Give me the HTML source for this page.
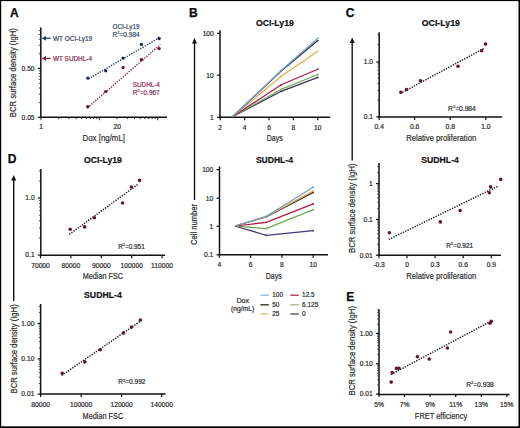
<!DOCTYPE html>
<html><head><meta charset="utf-8"><style>
html,body{margin:0;padding:0;background:#000;}
body{width:520px;height:428px;overflow:hidden;position:relative;}
svg{position:absolute;left:0;top:0;}
text{font-family:"Liberation Sans", sans-serif;}
</style></head><body>
<svg width="520" height="428" viewBox="0 0 520 428">
<rect x="0" y="0" width="520" height="428" fill="#000"/>
<rect x="1.2" y="1.1" width="517.3" height="425.2" fill="#fff"/>
<text x="9.9" y="16.88" font-size="12" font-weight="bold" fill="#0a0a0a" stroke="#0a0a0a" stroke-width="0.25">A</text>
<g transform="translate(12.9,72.65) rotate(-90)"><text x="0" y="3.42" font-size="9.9" text-anchor="middle" fill="#2a2a2a" stroke="#2a2a2a" stroke-width="0.2" textLength="89.1" lengthAdjust="spacingAndGlyphs">BCR surface density (IgH)</text></g>
<line x1="40.80" y1="27.40" x2="40.80" y2="118.00" stroke="#111" stroke-width="1.5"/>
<line x1="40.10" y1="117.30" x2="167.00" y2="117.30" stroke="#111" stroke-width="1.5"/>
<line x1="37.80" y1="68.40" x2="40.80" y2="68.40" stroke="#111" stroke-width="1.2"/>
<g transform="translate(34.599999999999994,70.71) scale(1.0,1)"><text x="0" y="0" font-size="6.7" font-weight="normal" text-anchor="end" fill="#2a2a2a" stroke="#2a2a2a" stroke-width="0.2">0.50</text></g>
<line x1="37.80" y1="117.30" x2="40.80" y2="117.30" stroke="#111" stroke-width="1.2"/>
<g transform="translate(34.599999999999994,119.61) scale(1.0,1)"><text x="0" y="0" font-size="6.7" font-weight="normal" text-anchor="end" fill="#2a2a2a" stroke="#2a2a2a" stroke-width="0.2">0.05</text></g>
<line x1="38.80" y1="53.77" x2="40.80" y2="53.77" stroke="#333" stroke-width="0.9"/>
<line x1="38.80" y1="45.21" x2="40.80" y2="45.21" stroke="#333" stroke-width="0.9"/>
<line x1="38.80" y1="39.14" x2="40.80" y2="39.14" stroke="#333" stroke-width="0.9"/>
<line x1="38.80" y1="34.43" x2="40.80" y2="34.43" stroke="#333" stroke-width="0.9"/>
<line x1="38.80" y1="30.58" x2="40.80" y2="30.58" stroke="#333" stroke-width="0.9"/>
<line x1="38.80" y1="102.67" x2="40.80" y2="102.67" stroke="#333" stroke-width="0.9"/>
<line x1="38.80" y1="94.11" x2="40.80" y2="94.11" stroke="#333" stroke-width="0.9"/>
<line x1="38.80" y1="88.04" x2="40.80" y2="88.04" stroke="#333" stroke-width="0.9"/>
<line x1="38.80" y1="83.33" x2="40.80" y2="83.33" stroke="#333" stroke-width="0.9"/>
<line x1="38.80" y1="79.48" x2="40.80" y2="79.48" stroke="#333" stroke-width="0.9"/>
<line x1="38.80" y1="76.23" x2="40.80" y2="76.23" stroke="#333" stroke-width="0.9"/>
<line x1="38.80" y1="73.41" x2="40.80" y2="73.41" stroke="#333" stroke-width="0.9"/>
<line x1="38.80" y1="70.92" x2="40.80" y2="70.92" stroke="#333" stroke-width="0.9"/>
<line x1="41.00" y1="117.30" x2="41.00" y2="120.30" stroke="#222" stroke-width="1.0"/>
<line x1="58.58" y1="117.30" x2="58.58" y2="119.10" stroke="#222" stroke-width="1.0"/>
<line x1="68.86" y1="117.30" x2="68.86" y2="119.10" stroke="#222" stroke-width="1.0"/>
<line x1="76.16" y1="117.30" x2="76.16" y2="119.10" stroke="#222" stroke-width="1.0"/>
<line x1="81.82" y1="117.30" x2="81.82" y2="119.10" stroke="#222" stroke-width="1.0"/>
<line x1="86.44" y1="117.30" x2="86.44" y2="119.10" stroke="#222" stroke-width="1.0"/>
<line x1="90.35" y1="117.30" x2="90.35" y2="119.10" stroke="#222" stroke-width="1.0"/>
<line x1="93.74" y1="117.30" x2="93.74" y2="119.10" stroke="#222" stroke-width="1.0"/>
<line x1="96.73" y1="117.30" x2="96.73" y2="119.10" stroke="#222" stroke-width="1.0"/>
<line x1="99.40" y1="117.30" x2="99.40" y2="120.30" stroke="#222" stroke-width="1.0"/>
<line x1="116.98" y1="117.30" x2="116.98" y2="119.10" stroke="#222" stroke-width="1.0"/>
<line x1="127.26" y1="117.30" x2="127.26" y2="119.10" stroke="#222" stroke-width="1.0"/>
<line x1="134.56" y1="117.30" x2="134.56" y2="119.10" stroke="#222" stroke-width="1.0"/>
<line x1="140.22" y1="117.30" x2="140.22" y2="119.10" stroke="#222" stroke-width="1.0"/>
<line x1="144.84" y1="117.30" x2="144.84" y2="119.10" stroke="#222" stroke-width="1.0"/>
<line x1="148.75" y1="117.30" x2="148.75" y2="119.10" stroke="#222" stroke-width="1.0"/>
<line x1="152.14" y1="117.30" x2="152.14" y2="119.10" stroke="#222" stroke-width="1.0"/>
<line x1="155.13" y1="117.30" x2="155.13" y2="119.10" stroke="#222" stroke-width="1.0"/>
<line x1="157.80" y1="117.30" x2="157.80" y2="120.30" stroke="#222" stroke-width="1.0"/>
<text x="41" y="129.11" font-size="6.7" font-weight="normal" text-anchor="middle" fill="#2a2a2a" stroke="#2a2a2a" stroke-width="0.2">1</text>
<text x="117.3" y="129.11" font-size="6.7" font-weight="normal" text-anchor="middle" fill="#2a2a2a" stroke="#2a2a2a" stroke-width="0.2">20</text>
<text x="103.75" y="141.32" font-size="9.9" font-weight="normal" text-anchor="middle" fill="#2a2a2a" stroke="#2a2a2a" stroke-width="0.2" textLength="42.5" lengthAdjust="spacingAndGlyphs">Dox [ng/mL]</text>
<line x1="44.00" y1="38.30" x2="50.70" y2="38.30" stroke="#2a3c62" stroke-width="1.3"/>
<path d="M41.6,38.3 L46.0,35.9 L46.0,40.7 Z" fill="#2a3c62"/>
<text x="53.0" y="40.97" font-size="6.3" font-weight="normal" text-anchor="start" fill="#3c4866" stroke="#3c4866" stroke-width="0.2" textLength="39.2" lengthAdjust="spacingAndGlyphs">WT OCI-Ly19</text>
<line x1="44.00" y1="58.40" x2="50.70" y2="58.40" stroke="#8e1e44" stroke-width="1.3"/>
<path d="M41.6,58.4 L46.0,56.0 L46.0,60.8 Z" fill="#8e1e44"/>
<text x="53.0" y="61.07" font-size="6.3" font-weight="normal" text-anchor="start" fill="#8a2c50" stroke="#8a2c50" stroke-width="0.2" textLength="39.0" lengthAdjust="spacingAndGlyphs">WT SUDHL-4</text>
<line x1="88.5" y1="78.8" x2="160" y2="37.4" stroke="#2a3c62" stroke-width="1.4" stroke-dasharray="1.3 1.3"/>
<line x1="87.4" y1="107.8" x2="160.5" y2="44.5" stroke="#8e1e44" stroke-width="1.4" stroke-dasharray="1.3 1.3"/>
<circle cx="87.8" cy="78.1" r="1.7" fill="#1f2d4c"/>
<circle cx="105.7" cy="70.7" r="1.7" fill="#1f2d4c"/>
<circle cx="123.1" cy="58.1" r="1.7" fill="#1f2d4c"/>
<circle cx="141.4" cy="44.4" r="1.7" fill="#1f2d4c"/>
<circle cx="159.1" cy="38.5" r="1.7" fill="#1f2d4c"/>
<circle cx="87.7" cy="106.8" r="1.7" fill="#6a1430"/>
<circle cx="105.7" cy="91.6" r="1.7" fill="#6a1430"/>
<circle cx="123.1" cy="67.6" r="1.7" fill="#6a1430"/>
<circle cx="141.4" cy="59.6" r="1.7" fill="#6a1430"/>
<circle cx="159.1" cy="48.6" r="1.7" fill="#6a1430"/>
<text x="112.6" y="28.81" font-size="6.4" font-weight="normal" text-anchor="start" fill="#3c4866" stroke="#3c4866" stroke-width="0.2" textLength="26.9" lengthAdjust="spacingAndGlyphs">OCI-Ly19</text>
<text x="112.6" y="36.75" font-size="6.8" font-weight="normal" text-anchor="start" fill="#3c4866" stroke="#3c4866" stroke-width="0.2" textLength="27.1" lengthAdjust="spacingAndGlyphs">R<tspan font-size="4.2" dy="-2.6">2</tspan><tspan dy="2.6">=0.984</tspan></text>
<text x="132.8" y="87.11" font-size="6.4" font-weight="normal" text-anchor="start" fill="#8a2c50" stroke="#8a2c50" stroke-width="0.2" textLength="27.1" lengthAdjust="spacingAndGlyphs">SUDHL-4</text>
<text x="132.8" y="94.75" font-size="6.8" font-weight="normal" text-anchor="start" fill="#8a2c50" stroke="#8a2c50" stroke-width="0.2" textLength="26.9" lengthAdjust="spacingAndGlyphs">R<tspan font-size="4.2" dy="-2.6">2</tspan><tspan dy="2.6">=0.967</tspan></text>
<text x="189.0" y="16.88" font-size="12" font-weight="bold" fill="#0a0a0a" stroke="#0a0a0a" stroke-width="0.25">B</text>
<line x1="194.50" y1="42.00" x2="194.50" y2="200.00" stroke="#111" stroke-width="1.4"/>
<path d="M192.0,43.4 L194.5,38 L197.0,43.4 Z" fill="#111"/>
<g transform="translate(194.0,224.5) rotate(-90)"><text x="0" y="3.42" font-size="9.9" text-anchor="middle" fill="#2a2a2a" stroke="#2a2a2a" stroke-width="0.2" textLength="41" lengthAdjust="spacingAndGlyphs">Cell number</text></g>
<text x="274.95" y="26.07" font-size="8.9" font-weight="bold" text-anchor="middle" fill="#111" stroke="#111" stroke-width="0.2" textLength="37.7" lengthAdjust="spacingAndGlyphs">OCI-Ly19</text>
<line x1="220.00" y1="30.20" x2="220.00" y2="118.00" stroke="#111" stroke-width="1.5"/>
<line x1="219.30" y1="117.30" x2="330.20" y2="117.30" stroke="#111" stroke-width="1.5"/>
<line x1="217.00" y1="33.30" x2="220.00" y2="33.30" stroke="#111" stroke-width="1.2"/>
<g transform="translate(213.8,35.61) scale(1.0,1)"><text x="0" y="0" font-size="6.7" font-weight="normal" text-anchor="end" fill="#2a2a2a" stroke="#2a2a2a" stroke-width="0.2">100</text></g>
<line x1="217.00" y1="75.20" x2="220.00" y2="75.20" stroke="#111" stroke-width="1.2"/>
<g transform="translate(213.8,77.51) scale(1.0,1)"><text x="0" y="0" font-size="6.7" font-weight="normal" text-anchor="end" fill="#2a2a2a" stroke="#2a2a2a" stroke-width="0.2">10</text></g>
<line x1="217.00" y1="117.30" x2="220.00" y2="117.30" stroke="#111" stroke-width="1.2"/>
<g transform="translate(213.8,119.61) scale(1.0,1)"><text x="0" y="0" font-size="6.7" font-weight="normal" text-anchor="end" fill="#2a2a2a" stroke="#2a2a2a" stroke-width="0.2">1</text></g>
<line x1="220.20" y1="117.30" x2="220.20" y2="120.30" stroke="#111" stroke-width="1.2"/>
<g transform="translate(220.2,129.51) scale(1.0,1)"><text x="0" y="0" font-size="6.7" font-weight="normal" text-anchor="middle" fill="#2a2a2a" stroke="#2a2a2a" stroke-width="0.2">2</text></g>
<line x1="244.60" y1="117.30" x2="244.60" y2="120.30" stroke="#111" stroke-width="1.2"/>
<g transform="translate(244.6,129.51) scale(1.0,1)"><text x="0" y="0" font-size="6.7" font-weight="normal" text-anchor="middle" fill="#2a2a2a" stroke="#2a2a2a" stroke-width="0.2">4</text></g>
<line x1="269.00" y1="117.30" x2="269.00" y2="120.30" stroke="#111" stroke-width="1.2"/>
<g transform="translate(269.0,129.51) scale(1.0,1)"><text x="0" y="0" font-size="6.7" font-weight="normal" text-anchor="middle" fill="#2a2a2a" stroke="#2a2a2a" stroke-width="0.2">6</text></g>
<line x1="293.40" y1="117.30" x2="293.40" y2="120.30" stroke="#111" stroke-width="1.2"/>
<g transform="translate(293.4,129.51) scale(1.0,1)"><text x="0" y="0" font-size="6.7" font-weight="normal" text-anchor="middle" fill="#2a2a2a" stroke="#2a2a2a" stroke-width="0.2">8</text></g>
<line x1="317.80" y1="117.30" x2="317.80" y2="120.30" stroke="#111" stroke-width="1.2"/>
<g transform="translate(317.79999999999995,129.51) scale(1.0,1)"><text x="0" y="0" font-size="6.7" font-weight="normal" text-anchor="middle" fill="#2a2a2a" stroke="#2a2a2a" stroke-width="0.2">10</text></g>
<text x="274.75" y="140.92" font-size="9.9" font-weight="normal" text-anchor="middle" fill="#2a2a2a" stroke="#2a2a2a" stroke-width="0.2" textLength="16" lengthAdjust="spacingAndGlyphs">Days</text>
<path d="M232.40,116.8 L281.20,91.3 L317.80,77.4" fill="none" stroke="#3a3358" stroke-width="1.25"/>
<circle cx="281.20" cy="91.3" r="0.9" fill="#3a3358"/>
<circle cx="317.80" cy="77.4" r="0.9" fill="#3a3358"/>
<path d="M232.40,116.8 L281.20,89.3 L317.80,74.5" fill="none" stroke="#72aa58" stroke-width="1.25"/>
<circle cx="281.20" cy="89.3" r="0.9" fill="#72aa58"/>
<circle cx="317.80" cy="74.5" r="0.9" fill="#72aa58"/>
<path d="M232.40,116.8 L281.20,84.8 L317.80,69.2" fill="none" stroke="#a6194a" stroke-width="1.25"/>
<circle cx="281.20" cy="84.8" r="0.9" fill="#a6194a"/>
<circle cx="317.80" cy="69.2" r="0.9" fill="#a6194a"/>
<path d="M232.40,116.8 L281.20,76.3 L317.80,51.3" fill="none" stroke="#e6ac48" stroke-width="1.25"/>
<circle cx="281.20" cy="76.3" r="0.9" fill="#e6ac48"/>
<circle cx="317.80" cy="51.3" r="0.9" fill="#e6ac48"/>
<path d="M232.40,116.8 L281.20,71.0 L317.80,40.6" fill="none" stroke="#303030" stroke-width="1.25"/>
<circle cx="281.20" cy="71.0" r="0.9" fill="#303030"/>
<circle cx="317.80" cy="40.6" r="0.9" fill="#303030"/>
<path d="M232.40,116.8 L281.20,70.5 L317.80,38.2" fill="none" stroke="#74a2d6" stroke-width="1.25"/>
<circle cx="281.20" cy="70.5" r="0.9" fill="#74a2d6"/>
<circle cx="317.80" cy="38.2" r="0.9" fill="#74a2d6"/>
<text x="274.4" y="163.07" font-size="8.9" font-weight="bold" text-anchor="middle" fill="#111" stroke="#111" stroke-width="0.2" textLength="37" lengthAdjust="spacingAndGlyphs">SUDHL-4</text>
<line x1="219.50" y1="166.50" x2="219.50" y2="255.50" stroke="#111" stroke-width="1.5"/>
<line x1="218.80" y1="254.80" x2="328.00" y2="254.80" stroke="#111" stroke-width="1.5"/>
<line x1="216.50" y1="169.60" x2="219.50" y2="169.60" stroke="#111" stroke-width="1.2"/>
<g transform="translate(213.3,171.91) scale(1.0,1)"><text x="0" y="0" font-size="6.7" font-weight="normal" text-anchor="end" fill="#2a2a2a" stroke="#2a2a2a" stroke-width="0.2">100</text></g>
<line x1="216.50" y1="198.20" x2="219.50" y2="198.20" stroke="#111" stroke-width="1.2"/>
<g transform="translate(213.3,200.51) scale(1.0,1)"><text x="0" y="0" font-size="6.7" font-weight="normal" text-anchor="end" fill="#2a2a2a" stroke="#2a2a2a" stroke-width="0.2">10</text></g>
<line x1="216.50" y1="226.30" x2="219.50" y2="226.30" stroke="#111" stroke-width="1.2"/>
<g transform="translate(213.3,228.61) scale(1.0,1)"><text x="0" y="0" font-size="6.7" font-weight="normal" text-anchor="end" fill="#2a2a2a" stroke="#2a2a2a" stroke-width="0.2">1</text></g>
<line x1="216.50" y1="254.80" x2="219.50" y2="254.80" stroke="#111" stroke-width="1.2"/>
<g transform="translate(213.3,257.11) scale(1.0,1)"><text x="0" y="0" font-size="6.7" font-weight="normal" text-anchor="end" fill="#2a2a2a" stroke="#2a2a2a" stroke-width="0.2">0.1</text></g>
<line x1="219.30" y1="254.80" x2="219.30" y2="257.80" stroke="#111" stroke-width="1.2"/>
<g transform="translate(219.3,266.51) scale(1.0,1)"><text x="0" y="0" font-size="6.7" font-weight="normal" text-anchor="middle" fill="#2a2a2a" stroke="#2a2a2a" stroke-width="0.2">4</text></g>
<line x1="250.60" y1="254.80" x2="250.60" y2="257.80" stroke="#111" stroke-width="1.2"/>
<g transform="translate(250.60000000000002,266.51) scale(1.0,1)"><text x="0" y="0" font-size="6.7" font-weight="normal" text-anchor="middle" fill="#2a2a2a" stroke="#2a2a2a" stroke-width="0.2">6</text></g>
<line x1="281.90" y1="254.80" x2="281.90" y2="257.80" stroke="#111" stroke-width="1.2"/>
<g transform="translate(281.90000000000003,266.51) scale(1.0,1)"><text x="0" y="0" font-size="6.7" font-weight="normal" text-anchor="middle" fill="#2a2a2a" stroke="#2a2a2a" stroke-width="0.2">8</text></g>
<line x1="313.20" y1="254.80" x2="313.20" y2="257.80" stroke="#111" stroke-width="1.2"/>
<g transform="translate(313.20000000000005,266.51) scale(1.0,1)"><text x="0" y="0" font-size="6.7" font-weight="normal" text-anchor="middle" fill="#2a2a2a" stroke="#2a2a2a" stroke-width="0.2">10</text></g>
<text x="273.8" y="278.72" font-size="9.9" font-weight="normal" text-anchor="middle" fill="#2a2a2a" stroke="#2a2a2a" stroke-width="0.2" textLength="16" lengthAdjust="spacingAndGlyphs">Days</text>
<path d="M234.95,226 L266.25,235.3 L313.20,230.7" fill="none" stroke="#433a78" stroke-width="1.25"/>
<circle cx="266.25" cy="235.3" r="0.9" fill="#433a78"/>
<circle cx="313.20" cy="230.7" r="0.9" fill="#433a78"/>
<path d="M234.95,226 L266.25,228.6 L313.20,209.7" fill="none" stroke="#70a850" stroke-width="1.25"/>
<circle cx="266.25" cy="228.6" r="0.9" fill="#70a850"/>
<circle cx="313.20" cy="209.7" r="0.9" fill="#70a850"/>
<path d="M234.95,226 L266.25,222.3 L313.20,203.8" fill="none" stroke="#b0173f" stroke-width="1.25"/>
<circle cx="266.25" cy="222.3" r="0.9" fill="#b0173f"/>
<circle cx="313.20" cy="203.8" r="0.9" fill="#b0173f"/>
<path d="M234.95,226 L266.25,216.8 L313.20,192.4" fill="none" stroke="#2a2a2a" stroke-width="1.25"/>
<circle cx="266.25" cy="216.8" r="0.9" fill="#2a2a2a"/>
<circle cx="313.20" cy="192.4" r="0.9" fill="#2a2a2a"/>
<path d="M234.95,226 L266.25,216.6 L313.20,191.0" fill="none" stroke="#e8a83a" stroke-width="1.25"/>
<circle cx="266.25" cy="216.6" r="0.9" fill="#e8a83a"/>
<circle cx="313.20" cy="191.0" r="0.9" fill="#e8a83a"/>
<path d="M234.95,226 L266.25,216.4 L313.20,187.2" fill="none" stroke="#6f9fd4" stroke-width="1.25"/>
<circle cx="266.25" cy="216.4" r="0.9" fill="#6f9fd4"/>
<circle cx="313.20" cy="187.2" r="0.9" fill="#6f9fd4"/>
<text x="242.8" y="302.98" font-size="7.2" font-weight="normal" text-anchor="middle" fill="#2a2a2a" stroke="#2a2a2a" stroke-width="0.2">Dox</text>
<text x="242.6" y="310.58" font-size="7.2" font-weight="normal" text-anchor="middle" fill="#2a2a2a" stroke="#2a2a2a" stroke-width="0.2" textLength="23.2" lengthAdjust="spacingAndGlyphs">(ng/mL)</text>
<line x1="260.40" y1="295.20" x2="268.80" y2="295.20" stroke="#9ab8d8" stroke-width="1.4"/>
<g transform="translate(272.2,297.18) scale(0.9,1)"><text x="0" y="0" font-size="7.2" font-weight="normal" text-anchor="start" fill="#2a2a2a" stroke="#2a2a2a" stroke-width="0.2">100</text></g>
<line x1="260.40" y1="304.80" x2="268.80" y2="304.80" stroke="#3b2e22" stroke-width="1.4"/>
<g transform="translate(272.2,306.78) scale(0.9,1)"><text x="0" y="0" font-size="7.2" font-weight="normal" text-anchor="start" fill="#2a2a2a" stroke="#2a2a2a" stroke-width="0.2">50</text></g>
<line x1="260.40" y1="314.00" x2="268.80" y2="314.00" stroke="#e2be8a" stroke-width="1.4"/>
<g transform="translate(272.2,315.98) scale(0.9,1)"><text x="0" y="0" font-size="7.2" font-weight="normal" text-anchor="start" fill="#2a2a2a" stroke="#2a2a2a" stroke-width="0.2">25</text></g>
<line x1="290.30" y1="295.20" x2="298.70" y2="295.20" stroke="#b23a5c" stroke-width="1.4"/>
<g transform="translate(302.1,297.18) scale(0.9,1)"><text x="0" y="0" font-size="7.2" font-weight="normal" text-anchor="start" fill="#2a2a2a" stroke="#2a2a2a" stroke-width="0.2">12.5</text></g>
<line x1="290.30" y1="304.80" x2="298.70" y2="304.80" stroke="#9cc08a" stroke-width="1.4"/>
<g transform="translate(302.1,306.78) scale(0.9,1)"><text x="0" y="0" font-size="7.2" font-weight="normal" text-anchor="start" fill="#2a2a2a" stroke="#2a2a2a" stroke-width="0.2">6.125</text></g>
<line x1="290.30" y1="314.00" x2="298.70" y2="314.00" stroke="#5c4f8c" stroke-width="1.4"/>
<g transform="translate(302.1,315.98) scale(0.9,1)"><text x="0" y="0" font-size="7.2" font-weight="normal" text-anchor="start" fill="#2a2a2a" stroke="#2a2a2a" stroke-width="0.2">0</text></g>
<text x="345.7" y="16.68" font-size="12" font-weight="bold" fill="#0a0a0a" stroke="#0a0a0a" stroke-width="0.25">C</text>
<line x1="352.20" y1="41.60" x2="352.20" y2="160.50" stroke="#111" stroke-width="1.4"/>
<path d="M349.7,43.0 L352.2,37.6 L354.7,43.0 Z" fill="#111"/>
<g transform="translate(351.1,208.25) rotate(-90)"><text x="0" y="3.42" font-size="9.9" text-anchor="middle" fill="#2a2a2a" stroke="#2a2a2a" stroke-width="0.2" textLength="89.5" lengthAdjust="spacingAndGlyphs">BCR surface density (IgH)</text></g>
<text x="440.85" y="25.67" font-size="8.9" font-weight="bold" text-anchor="middle" fill="#111" stroke="#111" stroke-width="0.2" textLength="38.1" lengthAdjust="spacingAndGlyphs">OCI-Ly19</text>
<line x1="379.20" y1="32.20" x2="379.20" y2="117.60" stroke="#111" stroke-width="1.5"/>
<line x1="378.50" y1="116.90" x2="502.20" y2="116.90" stroke="#111" stroke-width="1.5"/>
<line x1="376.20" y1="62.00" x2="379.20" y2="62.00" stroke="#111" stroke-width="1.2"/>
<g transform="translate(373.0,64.31) scale(1.0,1)"><text x="0" y="0" font-size="6.7" font-weight="normal" text-anchor="end" fill="#2a2a2a" stroke="#2a2a2a" stroke-width="0.2">1.0</text></g>
<line x1="376.20" y1="116.90" x2="379.20" y2="116.90" stroke="#111" stroke-width="1.2"/>
<g transform="translate(373.0,119.21) scale(1.0,1)"><text x="0" y="0" font-size="6.7" font-weight="normal" text-anchor="end" fill="#2a2a2a" stroke="#2a2a2a" stroke-width="0.2">0.1</text></g>
<line x1="377.40" y1="100.19" x2="379.20" y2="100.19" stroke="#333" stroke-width="0.9"/>
<line x1="377.40" y1="90.42" x2="379.20" y2="90.42" stroke="#333" stroke-width="0.9"/>
<line x1="377.40" y1="83.49" x2="379.20" y2="83.49" stroke="#333" stroke-width="0.9"/>
<line x1="377.40" y1="78.11" x2="379.20" y2="78.11" stroke="#333" stroke-width="0.9"/>
<line x1="377.40" y1="73.71" x2="379.20" y2="73.71" stroke="#333" stroke-width="0.9"/>
<line x1="377.40" y1="70.00" x2="379.20" y2="70.00" stroke="#333" stroke-width="0.9"/>
<line x1="377.40" y1="66.78" x2="379.20" y2="66.78" stroke="#333" stroke-width="0.9"/>
<line x1="377.40" y1="63.94" x2="379.20" y2="63.94" stroke="#333" stroke-width="0.9"/>
<line x1="377.40" y1="44.69" x2="379.20" y2="44.69" stroke="#333" stroke-width="0.9"/>
<line x1="377.40" y1="34.92" x2="379.20" y2="34.92" stroke="#333" stroke-width="0.9"/>
<line x1="379.20" y1="116.90" x2="379.20" y2="119.90" stroke="#111" stroke-width="1.2"/>
<g transform="translate(379.2,129.01) scale(1.0,1)"><text x="0" y="0" font-size="6.7" font-weight="normal" text-anchor="middle" fill="#2a2a2a" stroke="#2a2a2a" stroke-width="0.2">0.4</text></g>
<line x1="414.60" y1="116.90" x2="414.60" y2="119.90" stroke="#111" stroke-width="1.2"/>
<g transform="translate(414.6,129.01) scale(1.0,1)"><text x="0" y="0" font-size="6.7" font-weight="normal" text-anchor="middle" fill="#2a2a2a" stroke="#2a2a2a" stroke-width="0.2">0.6</text></g>
<line x1="450.20" y1="116.90" x2="450.20" y2="119.90" stroke="#111" stroke-width="1.2"/>
<g transform="translate(450.2,129.01) scale(1.0,1)"><text x="0" y="0" font-size="6.7" font-weight="normal" text-anchor="middle" fill="#2a2a2a" stroke="#2a2a2a" stroke-width="0.2">0.8</text></g>
<line x1="485.80" y1="116.90" x2="485.80" y2="119.90" stroke="#111" stroke-width="1.2"/>
<g transform="translate(485.8,129.01) scale(1.0,1)"><text x="0" y="0" font-size="6.7" font-weight="normal" text-anchor="middle" fill="#2a2a2a" stroke="#2a2a2a" stroke-width="0.2">1.0</text></g>
<text x="441.2" y="141.32" font-size="9.9" font-weight="normal" text-anchor="middle" fill="#2a2a2a" stroke="#2a2a2a" stroke-width="0.2" textLength="70" lengthAdjust="spacingAndGlyphs">Relative proliferation</text>
<line x1="400.1" y1="93.6" x2="484" y2="48.4" stroke="#111" stroke-width="1.4" stroke-dasharray="1.3 1.3"/>
<circle cx="400.9" cy="92.2" r="1.8" fill="#641432"/>
<circle cx="406.6" cy="89.5" r="1.8" fill="#641432"/>
<circle cx="420.5" cy="80.8" r="1.8" fill="#641432"/>
<circle cx="458" cy="66.3" r="1.8" fill="#641432"/>
<circle cx="481.6" cy="50.7" r="1.8" fill="#641432"/>
<circle cx="485.5" cy="44.1" r="1.8" fill="#641432"/>
<text x="448.1" y="110.72" font-size="7.0" font-weight="normal" text-anchor="start" fill="#2a2a2a" stroke="#2a2a2a" stroke-width="0.2" textLength="27.7" lengthAdjust="spacingAndGlyphs">R<tspan font-size="4.2" dy="-2.6">2</tspan><tspan dy="2.6">=0.984</tspan></text>
<text x="440.1" y="162.87" font-size="8.9" font-weight="bold" text-anchor="middle" fill="#111" stroke="#111" stroke-width="0.2" textLength="37.5" lengthAdjust="spacingAndGlyphs">SUDHL-4</text>
<line x1="379.00" y1="163.00" x2="379.00" y2="255.90" stroke="#111" stroke-width="1.5"/>
<line x1="378.30" y1="255.20" x2="500.90" y2="255.20" stroke="#111" stroke-width="1.5"/>
<line x1="376.00" y1="183.60" x2="379.00" y2="183.60" stroke="#111" stroke-width="1.2"/>
<g transform="translate(372.8,185.91) scale(1.0,1)"><text x="0" y="0" font-size="6.7" font-weight="normal" text-anchor="end" fill="#2a2a2a" stroke="#2a2a2a" stroke-width="0.2">1</text></g>
<line x1="376.00" y1="219.40" x2="379.00" y2="219.40" stroke="#111" stroke-width="1.2"/>
<g transform="translate(372.8,221.71) scale(1.0,1)"><text x="0" y="0" font-size="6.7" font-weight="normal" text-anchor="end" fill="#2a2a2a" stroke="#2a2a2a" stroke-width="0.2">0.1</text></g>
<line x1="376.00" y1="255.20" x2="379.00" y2="255.20" stroke="#111" stroke-width="1.2"/>
<g transform="translate(372.8,257.51) scale(1.0,1)"><text x="0" y="0" font-size="6.7" font-weight="normal" text-anchor="end" fill="#2a2a2a" stroke="#2a2a2a" stroke-width="0.2">0.01</text></g>
<line x1="377.20" y1="244.42" x2="379.00" y2="244.42" stroke="#333" stroke-width="0.9"/>
<line x1="377.20" y1="238.12" x2="379.00" y2="238.12" stroke="#333" stroke-width="0.9"/>
<line x1="377.20" y1="233.65" x2="379.00" y2="233.65" stroke="#333" stroke-width="0.9"/>
<line x1="377.20" y1="230.18" x2="379.00" y2="230.18" stroke="#333" stroke-width="0.9"/>
<line x1="377.20" y1="227.34" x2="379.00" y2="227.34" stroke="#333" stroke-width="0.9"/>
<line x1="377.20" y1="224.95" x2="379.00" y2="224.95" stroke="#333" stroke-width="0.9"/>
<line x1="377.20" y1="222.87" x2="379.00" y2="222.87" stroke="#333" stroke-width="0.9"/>
<line x1="377.20" y1="221.04" x2="379.00" y2="221.04" stroke="#333" stroke-width="0.9"/>
<line x1="377.20" y1="208.62" x2="379.00" y2="208.62" stroke="#333" stroke-width="0.9"/>
<line x1="377.20" y1="202.32" x2="379.00" y2="202.32" stroke="#333" stroke-width="0.9"/>
<line x1="377.20" y1="197.85" x2="379.00" y2="197.85" stroke="#333" stroke-width="0.9"/>
<line x1="377.20" y1="194.38" x2="379.00" y2="194.38" stroke="#333" stroke-width="0.9"/>
<line x1="377.20" y1="191.54" x2="379.00" y2="191.54" stroke="#333" stroke-width="0.9"/>
<line x1="377.20" y1="189.15" x2="379.00" y2="189.15" stroke="#333" stroke-width="0.9"/>
<line x1="377.20" y1="187.07" x2="379.00" y2="187.07" stroke="#333" stroke-width="0.9"/>
<line x1="377.20" y1="185.24" x2="379.00" y2="185.24" stroke="#333" stroke-width="0.9"/>
<line x1="377.20" y1="172.82" x2="379.00" y2="172.82" stroke="#333" stroke-width="0.9"/>
<line x1="377.20" y1="166.52" x2="379.00" y2="166.52" stroke="#333" stroke-width="0.9"/>
<line x1="379.00" y1="255.20" x2="379.00" y2="258.20" stroke="#111" stroke-width="1.2"/>
<g transform="translate(379,267.21) scale(1.0,1)"><text x="0" y="0" font-size="6.7" font-weight="normal" text-anchor="middle" fill="#2a2a2a" stroke="#2a2a2a" stroke-width="0.2">-0.3</text></g>
<line x1="407.00" y1="255.20" x2="407.00" y2="258.20" stroke="#111" stroke-width="1.2"/>
<g transform="translate(407.0,267.21) scale(1.0,1)"><text x="0" y="0" font-size="6.7" font-weight="normal" text-anchor="middle" fill="#2a2a2a" stroke="#2a2a2a" stroke-width="0.2">0</text></g>
<line x1="435.10" y1="255.20" x2="435.10" y2="258.20" stroke="#111" stroke-width="1.2"/>
<g transform="translate(435.1,267.21) scale(1.0,1)"><text x="0" y="0" font-size="6.7" font-weight="normal" text-anchor="middle" fill="#2a2a2a" stroke="#2a2a2a" stroke-width="0.2">0.3</text></g>
<line x1="463.20" y1="255.20" x2="463.20" y2="258.20" stroke="#111" stroke-width="1.2"/>
<g transform="translate(463.2,267.21) scale(1.0,1)"><text x="0" y="0" font-size="6.7" font-weight="normal" text-anchor="middle" fill="#2a2a2a" stroke="#2a2a2a" stroke-width="0.2">0.6</text></g>
<line x1="491.30" y1="255.20" x2="491.30" y2="258.20" stroke="#111" stroke-width="1.2"/>
<g transform="translate(491.3,267.21) scale(1.0,1)"><text x="0" y="0" font-size="6.7" font-weight="normal" text-anchor="middle" fill="#2a2a2a" stroke="#2a2a2a" stroke-width="0.2">0.9</text></g>
<text x="441.2" y="279.32" font-size="9.9" font-weight="normal" text-anchor="middle" fill="#2a2a2a" stroke="#2a2a2a" stroke-width="0.2" textLength="70" lengthAdjust="spacingAndGlyphs">Relative proliferation</text>
<line x1="388.8" y1="239.4" x2="498.4" y2="186" stroke="#111" stroke-width="1.4" stroke-dasharray="1.3 1.3"/>
<circle cx="389.4" cy="232.8" r="1.8" fill="#641432"/>
<circle cx="440.3" cy="221.9" r="1.8" fill="#641432"/>
<circle cx="460.2" cy="210.5" r="1.8" fill="#641432"/>
<circle cx="489.3" cy="192.8" r="1.8" fill="#641432"/>
<circle cx="490.6" cy="186.9" r="1.8" fill="#641432"/>
<circle cx="500.7" cy="179.4" r="1.8" fill="#641432"/>
<text x="446.3" y="247.51" font-size="7.0" font-weight="normal" text-anchor="start" fill="#2a2a2a" stroke="#2a2a2a" stroke-width="0.2" textLength="26.9" lengthAdjust="spacingAndGlyphs">R<tspan font-size="4.2" dy="-2.6">2</tspan><tspan dy="2.6">=0.921</tspan></text>
<text x="7.8" y="162.68" font-size="12" font-weight="bold" fill="#0a0a0a" stroke="#0a0a0a" stroke-width="0.25">D</text>
<line x1="13.70" y1="179.00" x2="13.70" y2="301.00" stroke="#111" stroke-width="1.4"/>
<path d="M11.2,180.4 L13.7,175 L16.2,180.4 Z" fill="#111"/>
<g transform="translate(13.3,348.9) rotate(-90)"><text x="0" y="3.42" font-size="9.9" text-anchor="middle" fill="#2a2a2a" stroke="#2a2a2a" stroke-width="0.2" textLength="89.19999999999999" lengthAdjust="spacingAndGlyphs">BCR surface density (IgH)</text></g>
<text x="103.0" y="162.97" font-size="8.9" font-weight="bold" text-anchor="middle" fill="#111" stroke="#111" stroke-width="0.2" textLength="37.8" lengthAdjust="spacingAndGlyphs">OCI-Ly19</text>
<line x1="40.80" y1="169.00" x2="40.80" y2="256.00" stroke="#111" stroke-width="1.5"/>
<line x1="40.10" y1="255.30" x2="165.10" y2="255.30" stroke="#111" stroke-width="1.5"/>
<line x1="37.80" y1="198.10" x2="40.80" y2="198.10" stroke="#111" stroke-width="1.2"/>
<g transform="translate(34.599999999999994,200.41) scale(1.0,1)"><text x="0" y="0" font-size="6.7" font-weight="normal" text-anchor="end" fill="#2a2a2a" stroke="#2a2a2a" stroke-width="0.2">1.0</text></g>
<line x1="37.80" y1="255.10" x2="40.80" y2="255.10" stroke="#111" stroke-width="1.2"/>
<g transform="translate(34.599999999999994,257.41) scale(1.0,1)"><text x="0" y="0" font-size="6.7" font-weight="normal" text-anchor="end" fill="#2a2a2a" stroke="#2a2a2a" stroke-width="0.2">0.1</text></g>
<line x1="39.00" y1="237.94" x2="40.80" y2="237.94" stroke="#333" stroke-width="0.9"/>
<line x1="39.00" y1="227.90" x2="40.80" y2="227.90" stroke="#333" stroke-width="0.9"/>
<line x1="39.00" y1="220.78" x2="40.80" y2="220.78" stroke="#333" stroke-width="0.9"/>
<line x1="39.00" y1="215.26" x2="40.80" y2="215.26" stroke="#333" stroke-width="0.9"/>
<line x1="39.00" y1="210.75" x2="40.80" y2="210.75" stroke="#333" stroke-width="0.9"/>
<line x1="39.00" y1="206.93" x2="40.80" y2="206.93" stroke="#333" stroke-width="0.9"/>
<line x1="39.00" y1="203.62" x2="40.80" y2="203.62" stroke="#333" stroke-width="0.9"/>
<line x1="39.00" y1="200.71" x2="40.80" y2="200.71" stroke="#333" stroke-width="0.9"/>
<line x1="39.00" y1="180.94" x2="40.80" y2="180.94" stroke="#333" stroke-width="0.9"/>
<line x1="39.00" y1="170.90" x2="40.80" y2="170.90" stroke="#333" stroke-width="0.9"/>
<line x1="40.50" y1="255.30" x2="40.50" y2="258.30" stroke="#111" stroke-width="1.2"/>
<g transform="translate(40.5,267.51) scale(1.0,1)"><text x="0" y="0" font-size="6.7" font-weight="normal" text-anchor="middle" fill="#2a2a2a" stroke="#2a2a2a" stroke-width="0.2">70000</text></g>
<line x1="70.90" y1="255.30" x2="70.90" y2="258.30" stroke="#111" stroke-width="1.2"/>
<g transform="translate(70.9,267.51) scale(1.0,1)"><text x="0" y="0" font-size="6.7" font-weight="normal" text-anchor="middle" fill="#2a2a2a" stroke="#2a2a2a" stroke-width="0.2">80000</text></g>
<line x1="101.30" y1="255.30" x2="101.30" y2="258.30" stroke="#111" stroke-width="1.2"/>
<g transform="translate(101.3,267.51) scale(1.0,1)"><text x="0" y="0" font-size="6.7" font-weight="normal" text-anchor="middle" fill="#2a2a2a" stroke="#2a2a2a" stroke-width="0.2">90000</text></g>
<line x1="131.70" y1="255.30" x2="131.70" y2="258.30" stroke="#111" stroke-width="1.2"/>
<g transform="translate(131.7,267.51) scale(1.0,1)"><text x="0" y="0" font-size="6.7" font-weight="normal" text-anchor="middle" fill="#2a2a2a" stroke="#2a2a2a" stroke-width="0.2">100000</text></g>
<line x1="162.00" y1="255.30" x2="162.00" y2="258.30" stroke="#111" stroke-width="1.2"/>
<g transform="translate(162,267.51) scale(1.0,1)"><text x="0" y="0" font-size="6.7" font-weight="normal" text-anchor="middle" fill="#2a2a2a" stroke="#2a2a2a" stroke-width="0.2">110000</text></g>
<text x="102.85" y="278.52" font-size="9.9" font-weight="normal" text-anchor="middle" fill="#2a2a2a" stroke="#2a2a2a" stroke-width="0.2" textLength="40.4" lengthAdjust="spacingAndGlyphs">Median FSC</text>
<line x1="69.3" y1="234.4" x2="138" y2="184.3" stroke="#111" stroke-width="1.4" stroke-dasharray="1.3 1.3"/>
<circle cx="70.2" cy="229.2" r="1.8" fill="#641432"/>
<circle cx="84.6" cy="226.9" r="1.8" fill="#641432"/>
<circle cx="94.4" cy="217.7" r="1.8" fill="#641432"/>
<circle cx="122.6" cy="203" r="1.8" fill="#641432"/>
<circle cx="131.4" cy="187" r="1.8" fill="#641432"/>
<circle cx="139.6" cy="180.4" r="1.8" fill="#641432"/>
<text x="118.2" y="248.61" font-size="7.0" font-weight="normal" text-anchor="start" fill="#2a2a2a" stroke="#2a2a2a" stroke-width="0.2" textLength="26.5" lengthAdjust="spacingAndGlyphs">R<tspan font-size="4.2" dy="-2.6">2</tspan><tspan dy="2.6">=0.951</tspan></text>
<text x="102.9" y="298.17" font-size="8.9" font-weight="bold" text-anchor="middle" fill="#111" stroke="#111" stroke-width="0.2" textLength="37.7" lengthAdjust="spacingAndGlyphs">SUDHL-4</text>
<line x1="40.60" y1="304.00" x2="40.60" y2="394.60" stroke="#111" stroke-width="1.5"/>
<line x1="39.90" y1="394.10" x2="165.50" y2="394.10" stroke="#111" stroke-width="1.5"/>
<line x1="37.60" y1="323.40" x2="40.60" y2="323.40" stroke="#111" stroke-width="1.2"/>
<g transform="translate(34.4,325.71) scale(1.0,1)"><text x="0" y="0" font-size="6.7" font-weight="normal" text-anchor="end" fill="#2a2a2a" stroke="#2a2a2a" stroke-width="0.2">1.00</text></g>
<line x1="37.60" y1="358.90" x2="40.60" y2="358.90" stroke="#111" stroke-width="1.2"/>
<g transform="translate(34.4,361.21) scale(1.0,1)"><text x="0" y="0" font-size="6.7" font-weight="normal" text-anchor="end" fill="#2a2a2a" stroke="#2a2a2a" stroke-width="0.2">0.10</text></g>
<line x1="37.60" y1="394.10" x2="40.60" y2="394.10" stroke="#111" stroke-width="1.2"/>
<g transform="translate(34.4,396.41) scale(1.0,1)"><text x="0" y="0" font-size="6.7" font-weight="normal" text-anchor="end" fill="#2a2a2a" stroke="#2a2a2a" stroke-width="0.2">0.01</text></g>
<line x1="38.80" y1="383.44" x2="40.60" y2="383.44" stroke="#333" stroke-width="0.9"/>
<line x1="38.80" y1="377.21" x2="40.60" y2="377.21" stroke="#333" stroke-width="0.9"/>
<line x1="38.80" y1="372.79" x2="40.60" y2="372.79" stroke="#333" stroke-width="0.9"/>
<line x1="38.80" y1="369.36" x2="40.60" y2="369.36" stroke="#333" stroke-width="0.9"/>
<line x1="38.80" y1="366.55" x2="40.60" y2="366.55" stroke="#333" stroke-width="0.9"/>
<line x1="38.80" y1="364.18" x2="40.60" y2="364.18" stroke="#333" stroke-width="0.9"/>
<line x1="38.80" y1="362.13" x2="40.60" y2="362.13" stroke="#333" stroke-width="0.9"/>
<line x1="38.80" y1="360.32" x2="40.60" y2="360.32" stroke="#333" stroke-width="0.9"/>
<line x1="38.80" y1="348.04" x2="40.60" y2="348.04" stroke="#333" stroke-width="0.9"/>
<line x1="38.80" y1="341.81" x2="40.60" y2="341.81" stroke="#333" stroke-width="0.9"/>
<line x1="38.80" y1="337.39" x2="40.60" y2="337.39" stroke="#333" stroke-width="0.9"/>
<line x1="38.80" y1="333.96" x2="40.60" y2="333.96" stroke="#333" stroke-width="0.9"/>
<line x1="38.80" y1="331.15" x2="40.60" y2="331.15" stroke="#333" stroke-width="0.9"/>
<line x1="38.80" y1="328.78" x2="40.60" y2="328.78" stroke="#333" stroke-width="0.9"/>
<line x1="38.80" y1="326.73" x2="40.60" y2="326.73" stroke="#333" stroke-width="0.9"/>
<line x1="38.80" y1="324.92" x2="40.60" y2="324.92" stroke="#333" stroke-width="0.9"/>
<line x1="38.80" y1="312.64" x2="40.60" y2="312.64" stroke="#333" stroke-width="0.9"/>
<line x1="38.80" y1="306.41" x2="40.60" y2="306.41" stroke="#333" stroke-width="0.9"/>
<line x1="40.60" y1="394.10" x2="40.60" y2="397.10" stroke="#111" stroke-width="1.2"/>
<g transform="translate(40.6,406.71) scale(1.0,1)"><text x="0" y="0" font-size="6.7" font-weight="normal" text-anchor="middle" fill="#2a2a2a" stroke="#2a2a2a" stroke-width="0.2">80000</text></g>
<line x1="81.10" y1="394.10" x2="81.10" y2="397.10" stroke="#111" stroke-width="1.2"/>
<g transform="translate(81.1,406.71) scale(1.0,1)"><text x="0" y="0" font-size="6.7" font-weight="normal" text-anchor="middle" fill="#2a2a2a" stroke="#2a2a2a" stroke-width="0.2">100000</text></g>
<line x1="121.60" y1="394.10" x2="121.60" y2="397.10" stroke="#111" stroke-width="1.2"/>
<g transform="translate(121.6,406.71) scale(1.0,1)"><text x="0" y="0" font-size="6.7" font-weight="normal" text-anchor="middle" fill="#2a2a2a" stroke="#2a2a2a" stroke-width="0.2">120000</text></g>
<line x1="161.70" y1="394.10" x2="161.70" y2="397.10" stroke="#111" stroke-width="1.2"/>
<g transform="translate(161.7,406.71) scale(1.0,1)"><text x="0" y="0" font-size="6.7" font-weight="normal" text-anchor="middle" fill="#2a2a2a" stroke="#2a2a2a" stroke-width="0.2">140000</text></g>
<text x="102.9" y="418.62" font-size="9.9" font-weight="normal" text-anchor="middle" fill="#2a2a2a" stroke="#2a2a2a" stroke-width="0.2" textLength="40.7" lengthAdjust="spacingAndGlyphs">Median FSC</text>
<line x1="61.6" y1="375.5" x2="141.3" y2="320.6" stroke="#111" stroke-width="1.4" stroke-dasharray="1.3 1.3"/>
<circle cx="62.3" cy="373.2" r="1.8" fill="#641432"/>
<circle cx="84.8" cy="361.9" r="1.8" fill="#641432"/>
<circle cx="100.3" cy="349.7" r="1.8" fill="#641432"/>
<circle cx="123.5" cy="332.9" r="1.8" fill="#641432"/>
<circle cx="131.6" cy="327.1" r="1.8" fill="#641432"/>
<circle cx="140.3" cy="320" r="1.8" fill="#641432"/>
<text x="118.2" y="384.31" font-size="7.0" font-weight="normal" text-anchor="start" fill="#2a2a2a" stroke="#2a2a2a" stroke-width="0.2" textLength="27.3" lengthAdjust="spacingAndGlyphs">R<tspan font-size="4.2" dy="-2.6">2</tspan><tspan dy="2.6">=0.992</tspan></text>
<text x="346.3" y="300.68" font-size="12" font-weight="bold" fill="#0a0a0a" stroke="#0a0a0a" stroke-width="0.25">E</text>
<g transform="translate(351.3,350.75) rotate(-90)"><text x="0" y="3.42" font-size="9.9" text-anchor="middle" fill="#2a2a2a" stroke="#2a2a2a" stroke-width="0.2" textLength="89.5" lengthAdjust="spacingAndGlyphs">BCR surface density (IgH)</text></g>
<line x1="379.00" y1="309.30" x2="379.00" y2="394.60" stroke="#111" stroke-width="1.5"/>
<line x1="378.30" y1="394.40" x2="509.60" y2="394.40" stroke="#111" stroke-width="1.5"/>
<line x1="376.00" y1="333.40" x2="379.00" y2="333.40" stroke="#111" stroke-width="1.2"/>
<g transform="translate(372.8,335.71) scale(1.0,1)"><text x="0" y="0" font-size="6.7" font-weight="normal" text-anchor="end" fill="#2a2a2a" stroke="#2a2a2a" stroke-width="0.2">1.00</text></g>
<line x1="376.00" y1="363.80" x2="379.00" y2="363.80" stroke="#111" stroke-width="1.2"/>
<g transform="translate(372.8,366.11) scale(1.0,1)"><text x="0" y="0" font-size="6.7" font-weight="normal" text-anchor="end" fill="#2a2a2a" stroke="#2a2a2a" stroke-width="0.2">0.10</text></g>
<line x1="376.00" y1="394.10" x2="379.00" y2="394.10" stroke="#111" stroke-width="1.2"/>
<g transform="translate(372.8,396.41) scale(1.0,1)"><text x="0" y="0" font-size="6.7" font-weight="normal" text-anchor="end" fill="#2a2a2a" stroke="#2a2a2a" stroke-width="0.2">0.01</text></g>
<line x1="377.20" y1="384.98" x2="379.00" y2="384.98" stroke="#333" stroke-width="0.9"/>
<line x1="377.20" y1="379.64" x2="379.00" y2="379.64" stroke="#333" stroke-width="0.9"/>
<line x1="377.20" y1="375.86" x2="379.00" y2="375.86" stroke="#333" stroke-width="0.9"/>
<line x1="377.20" y1="372.92" x2="379.00" y2="372.92" stroke="#333" stroke-width="0.9"/>
<line x1="377.20" y1="370.52" x2="379.00" y2="370.52" stroke="#333" stroke-width="0.9"/>
<line x1="377.20" y1="368.49" x2="379.00" y2="368.49" stroke="#333" stroke-width="0.9"/>
<line x1="377.20" y1="366.74" x2="379.00" y2="366.74" stroke="#333" stroke-width="0.9"/>
<line x1="377.20" y1="365.19" x2="379.00" y2="365.19" stroke="#333" stroke-width="0.9"/>
<line x1="377.20" y1="354.68" x2="379.00" y2="354.68" stroke="#333" stroke-width="0.9"/>
<line x1="377.20" y1="349.34" x2="379.00" y2="349.34" stroke="#333" stroke-width="0.9"/>
<line x1="377.20" y1="345.56" x2="379.00" y2="345.56" stroke="#333" stroke-width="0.9"/>
<line x1="377.20" y1="342.62" x2="379.00" y2="342.62" stroke="#333" stroke-width="0.9"/>
<line x1="377.20" y1="340.22" x2="379.00" y2="340.22" stroke="#333" stroke-width="0.9"/>
<line x1="377.20" y1="338.19" x2="379.00" y2="338.19" stroke="#333" stroke-width="0.9"/>
<line x1="377.20" y1="336.44" x2="379.00" y2="336.44" stroke="#333" stroke-width="0.9"/>
<line x1="377.20" y1="334.89" x2="379.00" y2="334.89" stroke="#333" stroke-width="0.9"/>
<line x1="377.20" y1="324.38" x2="379.00" y2="324.38" stroke="#333" stroke-width="0.9"/>
<line x1="377.20" y1="319.04" x2="379.00" y2="319.04" stroke="#333" stroke-width="0.9"/>
<line x1="377.20" y1="315.26" x2="379.00" y2="315.26" stroke="#333" stroke-width="0.9"/>
<line x1="377.20" y1="312.32" x2="379.00" y2="312.32" stroke="#333" stroke-width="0.9"/>
<line x1="377.20" y1="309.92" x2="379.00" y2="309.92" stroke="#333" stroke-width="0.9"/>
<line x1="379.00" y1="394.10" x2="379.00" y2="397.10" stroke="#111" stroke-width="1.2"/>
<g transform="translate(379,406.71) scale(1.0,1)"><text x="0" y="0" font-size="6.7" font-weight="normal" text-anchor="middle" fill="#2a2a2a" stroke="#2a2a2a" stroke-width="0.2">5%</text></g>
<line x1="404.50" y1="394.10" x2="404.50" y2="397.10" stroke="#111" stroke-width="1.2"/>
<g transform="translate(404.5,406.71) scale(1.0,1)"><text x="0" y="0" font-size="6.7" font-weight="normal" text-anchor="middle" fill="#2a2a2a" stroke="#2a2a2a" stroke-width="0.2">7%</text></g>
<line x1="430.10" y1="394.10" x2="430.10" y2="397.10" stroke="#111" stroke-width="1.2"/>
<g transform="translate(430.1,406.71) scale(1.0,1)"><text x="0" y="0" font-size="6.7" font-weight="normal" text-anchor="middle" fill="#2a2a2a" stroke="#2a2a2a" stroke-width="0.2">9%</text></g>
<line x1="455.70" y1="394.10" x2="455.70" y2="397.10" stroke="#111" stroke-width="1.2"/>
<g transform="translate(455.7,406.71) scale(1.0,1)"><text x="0" y="0" font-size="6.7" font-weight="normal" text-anchor="middle" fill="#2a2a2a" stroke="#2a2a2a" stroke-width="0.2">11%</text></g>
<line x1="481.30" y1="394.10" x2="481.30" y2="397.10" stroke="#111" stroke-width="1.2"/>
<g transform="translate(481.3,406.71) scale(1.0,1)"><text x="0" y="0" font-size="6.7" font-weight="normal" text-anchor="middle" fill="#2a2a2a" stroke="#2a2a2a" stroke-width="0.2">13%</text></g>
<line x1="506.80" y1="394.10" x2="506.80" y2="397.10" stroke="#111" stroke-width="1.2"/>
<g transform="translate(506.8,406.71) scale(1.0,1)"><text x="0" y="0" font-size="6.7" font-weight="normal" text-anchor="middle" fill="#2a2a2a" stroke="#2a2a2a" stroke-width="0.2">15%</text></g>
<text x="441" y="418.72" font-size="9.9" font-weight="normal" text-anchor="middle" fill="#2a2a2a" stroke="#2a2a2a" stroke-width="0.2" textLength="52.3" lengthAdjust="spacingAndGlyphs">FRET efficiency</text>
<line x1="391" y1="374.5" x2="492" y2="320.6" stroke="#111" stroke-width="1.4" stroke-dasharray="1.3 1.3"/>
<circle cx="391.2" cy="382.1" r="1.8" fill="#641432"/>
<circle cx="392.2" cy="372.6" r="1.8" fill="#641432"/>
<circle cx="396.5" cy="368.4" r="1.8" fill="#641432"/>
<circle cx="399" cy="368.2" r="1.8" fill="#641432"/>
<circle cx="417.4" cy="356.8" r="1.8" fill="#641432"/>
<circle cx="429.2" cy="359.1" r="1.8" fill="#641432"/>
<circle cx="447.4" cy="348" r="1.8" fill="#641432"/>
<circle cx="450.6" cy="332" r="1.8" fill="#641432"/>
<circle cx="490" cy="323.2" r="1.8" fill="#641432"/>
<circle cx="491.3" cy="321.3" r="1.8" fill="#641432"/>
<text x="466.2" y="386.62" font-size="7.0" font-weight="normal" text-anchor="start" fill="#2a2a2a" stroke="#2a2a2a" stroke-width="0.2" textLength="27.6" lengthAdjust="spacingAndGlyphs">R<tspan font-size="4.2" dy="-2.6">2</tspan><tspan dy="2.6">=0.938</tspan></text>
</svg>
</body></html>
